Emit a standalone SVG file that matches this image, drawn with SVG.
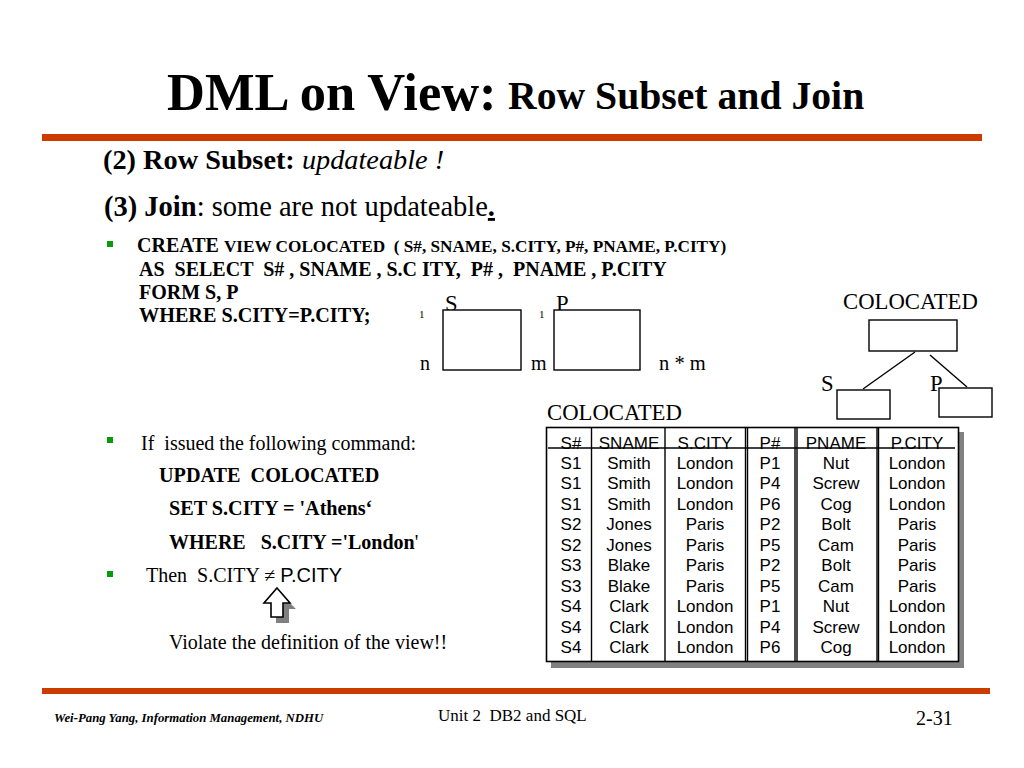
<svg xmlns="http://www.w3.org/2000/svg" width="1024" height="768" viewBox="0 0 1024 768">
<style>
text{font-family:"Liberation Serif","Times New Roman",serif;fill:#000;white-space:pre}
.b{font-weight:bold}
.s text{font-family:"Liberation Sans",Arial,sans-serif;font-size:17px;text-anchor:middle}
.box{fill:#fff;stroke:#000;stroke-width:1.4}
.ln{stroke:#000;stroke-width:1.4;fill:none}
.cell{fill:#fff;stroke:#000;stroke-width:1.6}
.bu{fill:#0a9b0a}
.code{font-weight:bold;font-size:20px}
.body{font-size:20px}
.lab{font-size:22.700px}
</style>
<rect width="1024" height="768" fill="#fff"/>
<g id="title">
<text x="167" y="110" class="b" font-size="52.500">DML on View:</text>
<text x="508" y="109" class="b" font-size="39.700">Row Subset and Join</text>
<rect x="42" y="134" width="940" height="7" fill="#cc3c00"/>
</g>
<g id="text-left">
<text x="103" y="169" class="b" font-size="28.300">(2) Row Subset: <tspan font-weight="normal" font-style="italic">updateable !</tspan></text>
<text x="104" y="216" font-size="28.500"><tspan class="b">(3) Join</tspan>: some are not updateable<tspan class="b" text-decoration="underline">.</tspan></text>
<rect class="bu" x="107" y="241" width="6" height="6"/>
<text x="137" y="252" class="b" font-size="20">CREATE <tspan font-size="17.200">VIEW COLOCATED  ( S#, SNAME, S.CITY, P#, PNAME, P.CITY)</tspan></text>
<text x="139" y="276" class="code">AS  SELECT  S# , SNAME , S.C ITY,  P# ,  PNAME , P.CITY</text>
<text x="139" y="299" class="code">FORM S, P</text>
<text x="139" y="322" class="code" style="font-size:20.200px">WHERE S.CITY=P.CITY;</text>
<rect class="bu" x="107" y="437" width="6" height="6"/>
<text x="141" y="450" class="body">If  issued the following command:</text>
<text x="159" y="482" class="code" style="font-size:20.200px">UPDATE  COLOCATED</text>
<text x="169" y="515" class="code" style="font-size:20.200px">SET S.CITY = 'Athens‘</text>
<text x="169" y="549" class="code">WHERE   S.CITY ='London<tspan font-weight="normal">'</tspan></text>
<rect class="bu" x="107" y="571" width="6" height="6"/>
<text x="146" y="582" class="body">Then  S.CITY ≠ <tspan font-family="Liberation Sans,Arial,sans-serif">P.CITY</tspan></text>
<text x="169" y="649" class="body">Violate the definition of the view!!</text>
</g>
<g id="arrow">
<path d="M281 594 L296 609 H289 V623 H276 V609 H270 Z" fill="#808080"/>
<path d="M277 588 L290 603 H283 V617 H271 V603 H264 Z" fill="#fff" stroke="#000" stroke-width="1.6"/>
</g>
<g id="cross-product">
<text x="445" y="311" class="lab">S</text>
<text x="556" y="311" class="lab">P</text>
<text x="419" y="318" font-size="11">1</text>
<text x="539" y="318" font-size="11">1</text>
<rect class="box" x="443" y="310" width="78" height="60"/>
<rect class="box" x="554" y="310" width="86" height="60"/>
<text x="420" y="370" font-size="20">n</text>
<text x="531" y="370" font-size="20">m</text>
<text x="659" y="370" font-size="20.500">n * m</text>
</g>
<g id="tree">
<text x="843" y="309" class="lab">COLOCATED</text>
<text x="821" y="391" class="lab">S</text>
<text x="930" y="391" class="lab">P</text>
<rect class="box" x="869" y="320" width="88" height="31"/>
<rect class="box" x="837" y="390" width="53" height="29"/>
<rect class="box" x="939" y="388" width="53" height="29"/>
</g>
<g id="connectors">
<line class="ln" x1="915" y1="352" x2="863" y2="389"/>
<line class="ln" x1="930" y1="355" x2="967" y2="387"/>
</g>
<g id="table">
<text x="547" y="420" class="lab">COLOCATED</text>
<rect x="551" y="432" width="413" height="236" fill="#808080"/>
<rect class="cell" x="546.500" y="427.500" width="412" height="234"/>
<g id="cols" class="ln">
<line x1="591.500" y1="428" x2="591.500" y2="661"/>
<line x1="665" y1="428" x2="665" y2="661"/>
<line x1="745.500" y1="428" x2="745.500" y2="661"/>
<line x1="747.500" y1="428" x2="747.500" y2="661"/>
<line x1="795" y1="428" x2="795" y2="661"/>
<line x1="797" y1="428" x2="797" y2="661"/>
<line x1="877" y1="428" x2="877" y2="661"/>
<line x1="878.500" y1="428" x2="878.500" y2="661"/>
</g>
<g class="s">
<text x="571" y="449">S#</text><text x="629" y="449">SNAME</text><text x="705" y="449">S.CITY</text><text x="770" y="449">P#</text><text x="836" y="449">PNAME</text><text x="917" y="449">P.CITY</text>
</g>
<line class="ln" x1="548" y1="448" x2="955" y2="448"/>
<g class="s">
<text x="571" y="469">S1</text><text x="629" y="469">Smith</text><text x="705" y="469">London</text><text x="770" y="469">P1</text><text x="836" y="469">Nut</text><text x="917" y="469">London</text>
<text x="571" y="489">S1</text><text x="629" y="489">Smith</text><text x="705" y="489">London</text><text x="770" y="489">P4</text><text x="836" y="489">Screw</text><text x="917" y="489">London</text>
<text x="571" y="510">S1</text><text x="629" y="510">Smith</text><text x="705" y="510">London</text><text x="770" y="510">P6</text><text x="836" y="510">Cog</text><text x="917" y="510">London</text>
<text x="571" y="530">S2</text><text x="629" y="530">Jones</text><text x="705" y="530">Paris</text><text x="770" y="530">P2</text><text x="836" y="530">Bolt</text><text x="917" y="530">Paris</text>
<text x="571" y="551">S2</text><text x="629" y="551">Jones</text><text x="705" y="551">Paris</text><text x="770" y="551">P5</text><text x="836" y="551">Cam</text><text x="917" y="551">Paris</text>
<text x="571" y="571">S3</text><text x="629" y="571">Blake</text><text x="705" y="571">Paris</text><text x="770" y="571">P2</text><text x="836" y="571">Bolt</text><text x="917" y="571">Paris</text>
<text x="571" y="592">S3</text><text x="629" y="592">Blake</text><text x="705" y="592">Paris</text><text x="770" y="592">P5</text><text x="836" y="592">Cam</text><text x="917" y="592">Paris</text>
<text x="571" y="612">S4</text><text x="629" y="612">Clark</text><text x="705" y="612">London</text><text x="770" y="612">P1</text><text x="836" y="612">Nut</text><text x="917" y="612">London</text>
<text x="571" y="633">S4</text><text x="629" y="633">Clark</text><text x="705" y="633">London</text><text x="770" y="633">P4</text><text x="836" y="633">Screw</text><text x="917" y="633">London</text>
<text x="571" y="653">S4</text><text x="629" y="653">Clark</text><text x="705" y="653">London</text><text x="770" y="653">P6</text><text x="836" y="653">Cog</text><text x="917" y="653">London</text>
</g>
</g>
<g id="footer">
<rect x="42" y="688" width="948" height="6" fill="#cc3c00"/>
<text x="54" y="722" class="b" font-style="italic" font-size="12.800">Wei-Pang Yang, Information Management, NDHU</text>
<text x="438" y="721" font-size="17">Unit 2  DB2 and SQL</text>
<text x="916" y="725" font-size="20">2-31</text>
</g>
</svg>
